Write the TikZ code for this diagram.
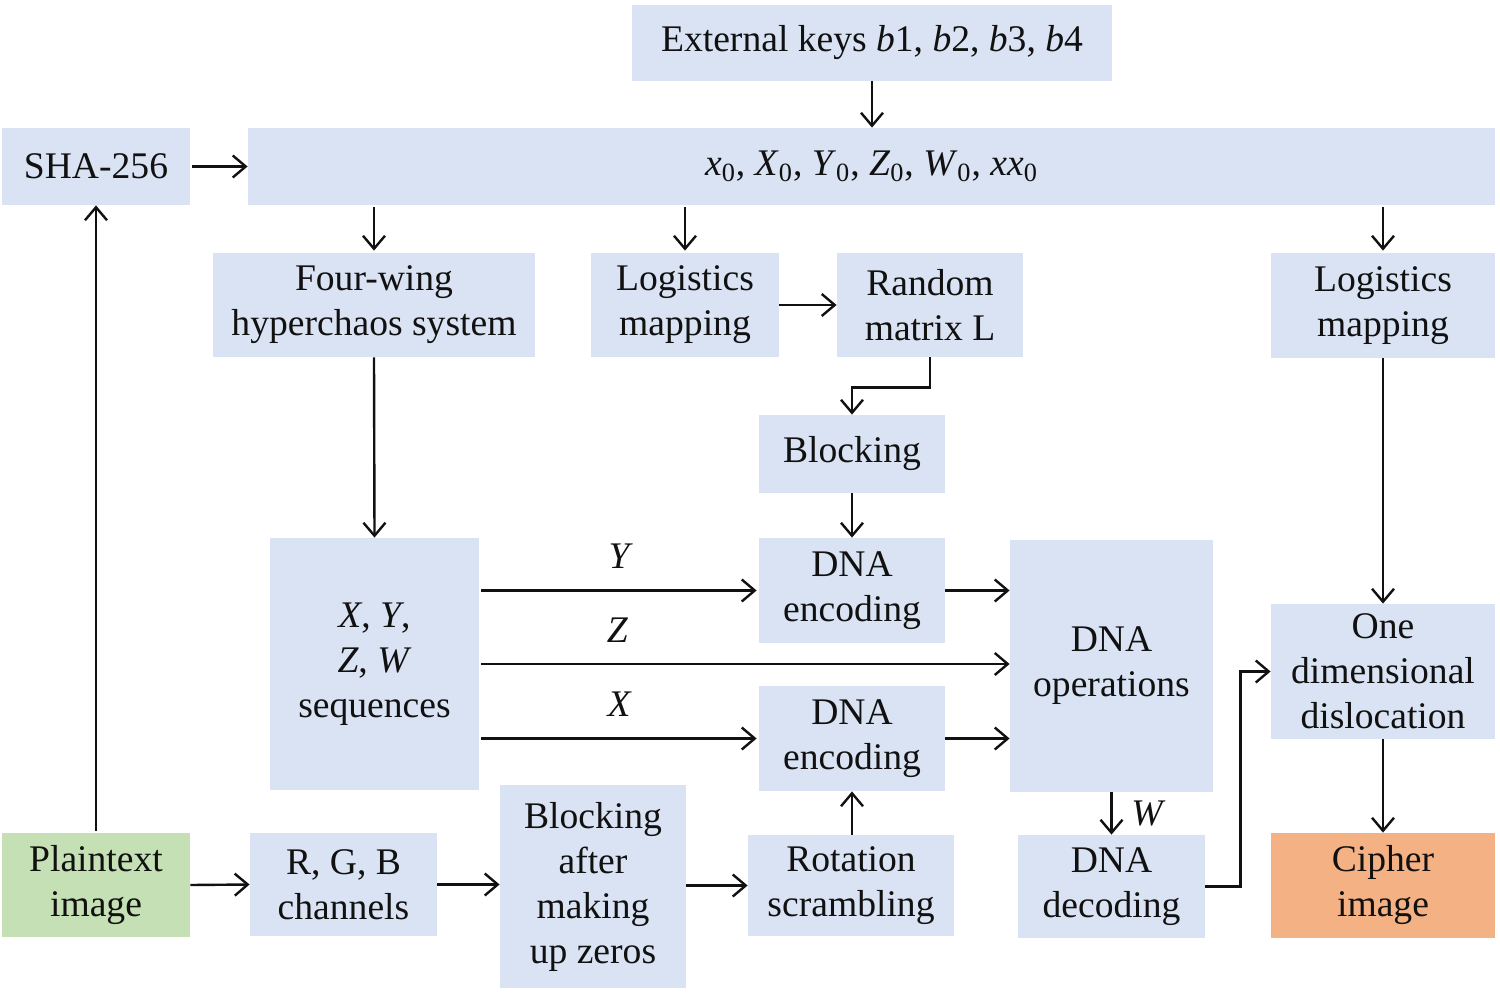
\documentclass[tikz,border=0pt]{standalone}
\usepackage{fontspec}
\setmainfont{Liberation Serif}
\usetikzlibrary{arrows.meta}
\definecolor{boxblue}{HTML}{DAE3F3}
\definecolor{boxgreen}{HTML}{C5E0B4}
\definecolor{boxorange}{HTML}{F4B183}
\definecolor{ink}{HTML}{111111}
% box from pixel corners (x1,y1)-(x2,y2)
\newcommand\blk[7]{%
  \node[blk,fill=#6,minimum width={(#4-#2)*0.5pt},minimum height={(#5-#3)*0.5pt}]
    (#1) at ({(#2+#4)/2},{(#3+#5)/2}) {#7};}
\newcommand\vv[1]{\textit{#1}}
\newcommand\sub[1]{\textsubscript{#1}}
\begin{document}
\begin{tikzpicture}[x=0.5pt,y=-0.5pt,
  blk/.style={inner sep=0pt,align=center,text=ink,
    font=\fontsize{18.8}{22.5}\selectfont},
  lbl/.style={text=ink,font=\fontsize{18.8}{20}\selectfont\itshape},
  conn/.style={draw=ink,line width=1.2pt,-{Straight Barb[length=6.5pt,width=11pt]}}]
\useasboundingbox (0,0) rectangle (1500,995);

\blk{ext}{632}{5}{1112}{81}{boxblue}{External keys \vv{b}1, \vv{b}2, \vv{b}3, \vv{b}4}
\blk{sha}{2}{128}{190}{205}{boxblue}{SHA-256}
\blk{init}{248}{128}{1495}{205}{boxblue}{\vv{x}\sub{0}, \vv{X}\sub{0}, \vv{Y}\sub{0}, \vv{Z}\sub{0}, \vv{W}\sub{0}, \vv{xx}\sub{0}}
\blk{four}{213}{253}{535}{357}{boxblue}{Four-wing\\hyperchaos system}
\blk{logA}{591}{253}{779}{357}{boxblue}{Logistics\\mapping}
\blk{rand}{837}{253}{1023}{357}{boxblue}{Random\\matrix L}
\blk{logB}{1271}{253}{1495}{358}{boxblue}{Logistics\\mapping}
\blk{blkg}{759}{415}{945}{493}{boxblue}{Blocking}
\blk{seq}{270}{538}{479}{790}{boxblue}{\vv{X}, \vv{Y},\\\vv{Z}, \vv{W}\\sequences}
\blk{encA}{759}{538}{945}{643}{boxblue}{DNA\\encoding}
\blk{ops}{1010}{540}{1213}{792}{boxblue}{DNA\\operations}
\blk{encB}{759}{686}{945}{791}{boxblue}{DNA\\encoding}
\blk{one}{1271}{604}{1495}{739}{boxblue}{One\\dimensional\\dislocation}
\blk{plain}{2}{833}{190}{937}{boxgreen}{Plaintext\\image}
\blk{rgb}{250}{833}{437}{936}{boxblue}{R, G, B\\channels}
\blk{bafter}{500}{785}{686}{988}{boxblue}{Blocking\\after\\making\\up zeros}
\blk{rot}{748}{835}{954}{936}{boxblue}{Rotation\\scrambling}
\blk{dec}{1018}{835}{1205}{938}{boxblue}{DNA\\decoding}
\blk{ciph}{1271}{833}{1495}{938}{boxorange}{Cipher\\image}

% key setup
\draw[conn] (ext.south) -- (ext.south |- init.north);
\draw[conn,shorten <=1pt] (sha.east) -- (init.west);
\draw[conn,shorten <=1pt] (plain.north) -- (sha.south);
\draw[conn,shorten <=1pt,shorten >=1pt] (four.north |- init.south) -- (four.north);
\draw[conn,shorten <=1pt,shorten >=1pt] (logA.north |- init.south) -- (logA.north);
\draw[conn,shorten <=1pt,shorten >=1pt] (logB.north |- init.south) -- (logB.north);

% chaotic sequences and random matrix
\draw[conn] (logA.east) -- (rand.west);
\draw[conn] (rand.south) -- ++(0,30) -| (blkg.north);
\draw[conn] (blkg.south) -- (encA.north);
\draw[conn] (four.south) -- (seq.north);

\draw[conn,shorten <=1pt,shorten >=1pt] (seq.east |- encA.west) -- node[lbl,above=7pt] {Y} (encA.west);
\draw[conn,shorten <=1pt] (seq.east) -- node[lbl,above=7pt,pos=0.26] {Z} (ops.west |- seq.east);
\draw[conn,shorten <=1pt,shorten >=1pt] (seq.east |- encB.west) -- node[lbl,above=7pt] {X} (encB.west);

% DNA stage
\draw[conn] (encA.east) -- (ops.west |- encA.east);
\draw[conn] (encB.east) -- (ops.west |- encB.east);
\draw[conn] (rot.north -| encB.south) -- (encB.south);
\draw[conn] (ops.south) -- node[lbl,right=6pt] {W} (dec.north);
\draw[conn] (dec.east) -- ++(35,0) |- (one.west);
\draw[conn] (logB.south) -- (one.north);
\draw[conn] (one.south) -- (ciph.north);

% image path
\draw[conn] (plain.east) -- (rgb.west);
\draw[conn] (rgb.east) -- (bafter.west |- rgb.east);
\draw[conn] (bafter.east |- rot.west) -- (rot.west);
\end{tikzpicture}
\end{document}
